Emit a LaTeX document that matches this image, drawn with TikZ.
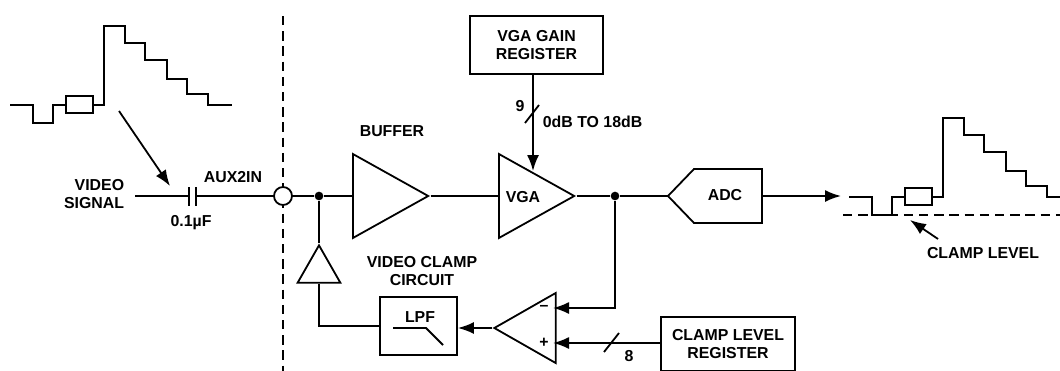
\documentclass[tikz,border=0pt]{standalone}
\usepackage{fontspec}
\setmainfont{Liberation Sans}
\usetikzlibrary{arrows.meta,positioning,shapes.geometric}

\begin{document}
\begin{tikzpicture}[
  x=0.75pt, y=-0.75pt, font=\fontsize{11.9pt}{13.4pt}\selectfont\bfseries, line width=1.35pt, node distance=4pt and 4pt,
  box/.style={draw, minimum width=#1, inner sep=0pt, align=center},
  lbl/.style={inner sep=0pt, align=center},
  amp/.style={draw, isosceles triangle, isosceles triangle stretches, inner sep=0pt, minimum width=63pt, minimum height=56.5pt},
  arr/.style={-{Latex[length=12pt, width=9pt]}},
  dashline/.style={dash pattern=on 7pt off 4.4pt},
  jn/.style={circle, fill=black, inner sep=0pt, minimum size=6.5pt},
  pics/vwave/.style={code={
    \draw (10,105) -- (33,105) -- (33,123) -- (53,123) -- (53,105) -- (66,105) (93,105) -- (104,105) -- (104,26) -- (125,26) -- (125,43) -- (145,43) -- (145,60) -- (167,60) -- (167,79) -- (187,79) -- (187,94) -- (208,94) -- (208,105) -- (#1,105);
    \draw (66,96) rectangle (93,113);}}]
  \useasboundingbox (0,0) rectangle (1060,371);
  \pic at (0,0) {vwave=232};
  \pic at (839,92) {vwave=221};

  \coordinate (sepTop) at (283,16);
  \coordinate (sepBot) at (283,371);
  \draw[dashline] (sepTop) -- (sepBot);
  \coordinate (levelL) at (843,215);
  \coordinate (levelR) at (1060,215);
  \draw[dashline] (levelL) -- (levelR);

  \node[circle, draw, fill=white, inner sep=0pt, minimum size=13.5pt] (pin) at (283,196) {};
  \node[jn] (jnIn) at (319,196) {};
  \node[amp, anchor=lower side] (buffer) at (352,196) {};
  \node[amp, anchor=lower side] (vga) at (498,196) {};
  \node[jn] (jnOut) at (615,196) {};
  \node[lbl] (bufferl) at (392,131) {BUFFER};
  \node[lbl] (vgal) at (523,197) {VGA};

  \node[box=99.75pt, minimum height=43.5pt] (gain) at (536.5,45) {VGA GAIN\\REGISTER};
  \node[box=100.5pt, minimum height=40pt] (clampreg) at (728,344) {CLAMP LEVEL\\REGISTER};
  \node[box=57.75pt, minimum height=43.5pt] (lpf) at (418.5,326) {};
  \node[lbl] (lpfl) at (420,317) {LPF};
  \draw (393,328) -- (426,328) -- (443,345);

  \node[amp, shape border rotate=90, minimum width=32pt, minimum height=28pt, anchor=apex] (bufBack) at (319,243) {};
  \node[amp, shape border rotate=180, minimum width=52.5pt, minimum height=46pt, anchor=apex] (comp) at (492,328) {};
  \node[lbl] (minus) at (544,308) {–};
  \node[lbl] (plus) at (544,343) {+};

  \coordinate (adcTip) at (668,196);
  \coordinate (adcOut) at (762,196);
  \draw (adcTip) -- (694,169) -- (762,169) -- (762,223) -- (694,223) -- cycle;
  \node[lbl] (adcl) at (725,195) {ADC};

  \coordinate (capL) at (189,196);
  \coordinate (capR) at (196,196);
  \coordinate (src) at (135,196);
  \draw (src) -- (capL) (capR) -- (pin);
  \draw (capL) ++(0,-9) -- ++(0,19) (capR) ++(0,-9) -- ++(0,19);
  \draw (pin) -- (jnIn) -- (buffer.lower side);
  \draw (buffer.apex) -- (vga.lower side);
  \draw (vga.apex) -- (jnOut) -- (adcTip);
  \coordinate (out) at (841,196);
  \draw[arr] (adcOut) -- (out);
  \draw (jnIn) -- (bufBack.apex);
  \draw (bufBack.lower side) |- (lpf.west);
  \draw[arr] (comp.apex) -- (comp.apex -| lpf.east);
  \coordinate (compMinus) at (553,308);
  \coordinate (compPlus) at (553,343);
  \draw[arr] (jnOut) |- (compMinus);
  \draw[arr] (clampreg.west |- compPlus) -- (compPlus);
  \coordinate (vgaIn) at (533,171);
  \draw[arr] (gain.south -| vgaIn) -- (vgaIn);
  \draw (525,123) -- (539,105);
  \draw (604,352) -- (619,333);

  \coordinate (waveFrom) at (119,111);
  \coordinate (waveTo) at (170,186);
  \draw[arr] (waveFrom) -- (waveTo);
  \coordinate (levelFrom) at (938,239);
  \coordinate (levelTo) at (910,220);
  \draw[arr] (levelFrom) -- (levelTo);

  \node[lbl, align=right, anchor=east] (video) at (125,194) {VIDEO\\SIGNAL};
  \node[lbl] (aux) at (233,177) {AUX2IN};
  \node[lbl] (capv) at (191,223) {0.1µF};
  \node[lbl] (nine) at (520,106) {9};
  \node[lbl, anchor=west] (range) at (542,122) {0dB TO 18dB};
  \node[lbl] (eight) at (629,356) {8};
  \node[lbl] (clampc) at (422,271) {VIDEO CLAMP\\CIRCUIT};
  \node[lbl] (levell) at (983,253) {CLAMP LEVEL};
\end{tikzpicture}
\end{document}
